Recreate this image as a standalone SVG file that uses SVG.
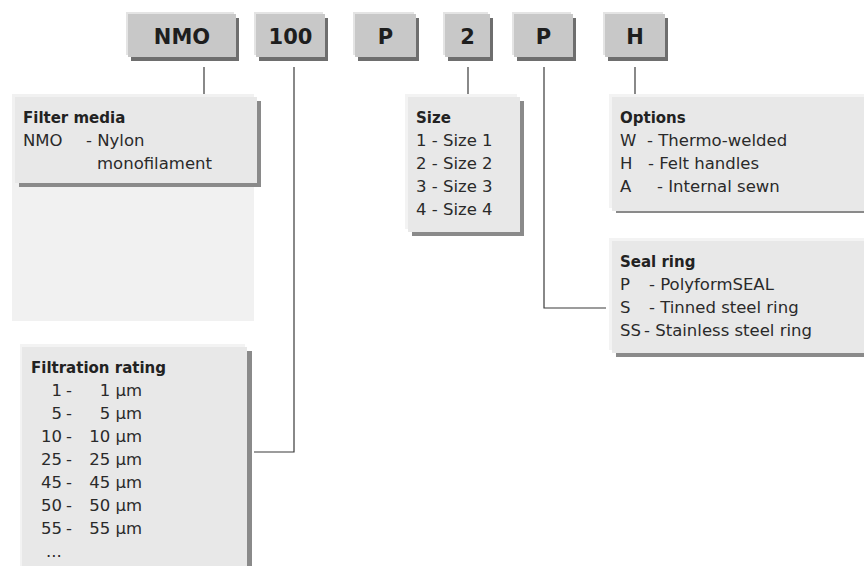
<svg xmlns="http://www.w3.org/2000/svg" width="864" height="566" viewBox="0 0 864 566">
<style>
.hl{fill:#e4e4e4}
.hm{fill:#c8c8c8}
.hs{fill:#6e6e6e}
.cl{fill:#f3f3f3}
.cm{fill:#e8e8e8}
.cs{fill:#8a8a8a}
.ht{font-family:"DejaVu Sans",sans-serif;font-weight:bold;font-size:21px;fill:#1e1e1e;text-anchor:middle}
.tt{font-family:"DejaVu Sans",sans-serif;font-weight:bold;font-size:15px;fill:#222}
.t{font-family:"DejaVu Sans",sans-serif;font-size:16.5px;fill:#2a2a2a}
.e{text-anchor:end}
.cn{fill:none;stroke:#3a3a3a;stroke-width:1.2}
</style>
<rect width="864" height="566" fill="#ffffff"/>

<g id="connectors">
<path class="cn" d="M204,67 V94"/>
<path class="cn" d="M294,67 V452 H254"/>
<path class="cn" d="M468,67 V94"/>
<path class="cn" d="M544,67 V308 H606"/>
<path class="cn" d="M635,67 V94"/>
</g>

<g id="code-nmo">
<rect class="hs" x="131" y="18" width="108" height="43"/>
<rect class="hl" x="126" y="12" width="108" height="43"/>
<rect class="hm" x="128" y="14" width="108" height="43"/>
<text class="ht" x="182" y="44">NMO</text>
</g>
<g id="code-100">
<rect class="hs" x="259" y="18" width="69" height="43"/>
<rect class="hl" x="254" y="12" width="69" height="43"/>
<rect class="hm" x="256" y="14" width="69" height="43"/>
<text class="ht" x="290.5" y="44">100</text>
</g>
<g id="code-p1">
<rect class="hs" x="358" y="18" width="61" height="43"/>
<rect class="hl" x="353" y="12" width="61" height="43"/>
<rect class="hm" x="355" y="14" width="61" height="43"/>
<text class="ht" x="385.5" y="44">P</text>
</g>
<g id="code-2">
<rect class="hs" x="448" y="18" width="45" height="43"/>
<rect class="hl" x="443" y="12" width="45" height="43"/>
<rect class="hm" x="445" y="14" width="45" height="43"/>
<text class="ht" x="467.5" y="44">2</text>
</g>
<g id="code-p2">
<rect class="hs" x="517" y="18" width="59" height="43"/>
<rect class="hl" x="512" y="12" width="59" height="43"/>
<rect class="hm" x="514" y="14" width="59" height="43"/>
<text class="ht" x="543.5" y="44">P</text>
</g>
<g id="code-h">
<rect class="hs" x="608" y="18" width="60" height="43"/>
<rect class="hl" x="603" y="12" width="60" height="43"/>
<rect class="hm" x="605" y="14" width="60" height="43"/>
<text class="ht" x="635" y="44">H</text>
</g>

<g id="filter-media">
<rect x="12" y="94" width="242" height="227" fill="#f1f1f1"/>
<rect class="cs" x="19" y="101" width="242" height="86"/>
<rect class="cm" x="15" y="97" width="242" height="86"/>
<text class="tt" x="23" y="123">Filter media</text>
<text class="t" x="23" y="146">NMO</text>
<text class="t" x="86" y="146">- Nylon</text>
<text class="t" x="97" y="169">monofilament</text>
</g>

<g id="filtration-rating">
<rect class="cs" x="27" y="351" width="225" height="230"/>
<rect class="cl" x="20" y="344" width="225" height="230"/>
<rect class="cm" x="22" y="347" width="225" height="230"/>
<text class="tt" x="31" y="373">Filtration rating</text>
<g class="t">
<text class="e" x="62" y="396">1</text><text x="66" y="396">-</text><text class="e" x="142" y="396">1 µm</text>
<text class="e" x="62" y="419">5</text><text x="66" y="419">-</text><text class="e" x="142" y="419">5 µm</text>
<text class="e" x="62" y="442">10</text><text x="66" y="442">-</text><text class="e" x="142" y="442">10 µm</text>
<text class="e" x="62" y="465">25</text><text x="66" y="465">-</text><text class="e" x="142" y="465">25 µm</text>
<text class="e" x="62" y="488">45</text><text x="66" y="488">-</text><text class="e" x="142" y="488">45 µm</text>
<text class="e" x="62" y="511">50</text><text x="66" y="511">-</text><text class="e" x="142" y="511">50 µm</text>
<text class="e" x="62" y="534">55</text><text x="66" y="534">-</text><text class="e" x="142" y="534">55 µm</text>
<text x="46" y="557">...</text>
</g>
</g>

<g id="size">
<rect class="cs" x="412" y="101" width="112" height="135"/>
<rect class="cl" x="405" y="94" width="112" height="135"/>
<rect class="cm" x="408" y="97" width="112" height="135"/>
<text class="tt" x="416" y="123">Size</text>
<text class="t" x="416" y="146">1 - Size 1</text>
<text class="t" x="416" y="169">2 - Size 2</text>
<text class="t" x="416" y="192">3 - Size 3</text>
<text class="t" x="416" y="215">4 - Size 4</text>
</g>

<g id="options">
<rect class="cs" x="616" y="99" width="260" height="114"/>
<rect class="cl" x="609" y="94" width="260" height="114"/>
<rect class="cm" x="612" y="97" width="260" height="114"/>
<text class="tt" x="620" y="123">Options</text>
<text class="t" x="620" y="146">W</text><text class="t" x="647" y="146">- Thermo-welded</text>
<text class="t" x="620" y="169">H</text><text class="t" x="648" y="169">- Felt handles</text>
<text class="t" x="620" y="192">A</text><text class="t" x="657" y="192">- Internal sewn</text>
</g>

<g id="seal-ring">
<rect class="cs" x="616" y="245" width="260" height="112"/>
<rect class="cl" x="609" y="238" width="260" height="112"/>
<rect class="cm" x="612" y="241" width="260" height="112"/>
<text class="tt" x="620" y="267">Seal ring</text>
<text class="t" x="620" y="290">P</text><text class="t" x="649" y="290">- PolyformSEAL</text>
<text class="t" x="620" y="313">S</text><text class="t" x="649" y="313">- Tinned steel ring</text>
<text class="t" x="620" y="336">SS</text><text class="t" x="644" y="336">- Stainless steel ring</text>
</g>
</svg>
